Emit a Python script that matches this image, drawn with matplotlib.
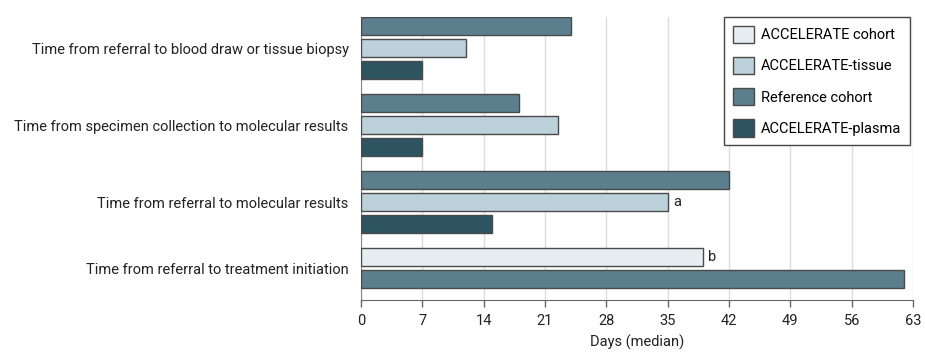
import matplotlib
matplotlib.use("Agg")
import matplotlib.pyplot as plt
from matplotlib.patches import Patch

plt.rcParams['font.family'] = ['Roboto', 'DejaVu Sans']

categories = [
    "Time from referral to blood draw or tissue biopsy",
    "Time from specimen collection to molecular results",
    "Time from referral to molecular results",
    "Time from referral to treatment initiation",
]
# each group: list of (series, value)
groups = [
    [("Reference cohort", 24), ("ACCELERATE-tissue", 12), ("ACCELERATE-plasma", 7)],
    [("Reference cohort", 18), ("ACCELERATE-tissue", 22.5), ("ACCELERATE-plasma", 7)],
    [("Reference cohort", 42), ("ACCELERATE-tissue", 35), ("ACCELERATE-plasma", 15)],
    [("ACCELERATE cohort", 39), ("Reference cohort", 62)],
]
notes = {(2, 1): "a", (3, 0): "b"}
colors = {
    "ACCELERATE cohort": "#e6eef2",
    "ACCELERATE-tissue": "#bdd1da",
    "Reference cohort": "#5b7f8d",
    "ACCELERATE-plasma": "#2e5361",
}
legend_order = ["ACCELERATE cohort", "ACCELERATE-tissue", "Reference cohort", "ACCELERATE-plasma"]
xticks = [0, 7, 14, 21, 28, 35, 42, 49, 56, 63]

FS = 10.5
fig = plt.figure(figsize=(9.25, 3.54), dpi=100)
ax = fig.add_axes([361/925, 1-300/354, (913-361)/925, (300-17)/354])

group_pitch = 3.5
ytick_pos = []
for gi, grp in enumerate(groups):
    base = gi * group_pitch
    ps = []
    for bj, (series, val) in enumerate(grp):
        y = base + bj
        ps.append(y)
        ax.barh(y, val, height=0.82, color=colors[series], edgecolor="#4a4a4a", linewidth=1.0, zorder=3)
        if (gi, bj) in notes:
            ax.text(val + 0.6, y, notes[(gi, bj)], va="center", ha="left", fontsize=FS, color="#222222", zorder=4)
    ytick_pos.append(sum(ps) / len(ps))

last = (len(groups) - 1) * group_pitch + len(groups[-1]) - 1
ax.set_ylim(last + 0.95, -0.41)
ax.set_xlim(0, 63)
ax.set_yticks(ytick_pos)
ax.set_yticklabels(categories, fontsize=FS, color="#222222")
ax.set_xticks(xticks)
ax.set_xticklabels([str(t) for t in xticks], fontsize=FS, color="#222222")
ax.tick_params(axis="y", length=0, pad=9)
ax.tick_params(axis="x", length=5, color="#666666", width=1, pad=5)
ax.grid(axis="x", color="#dcdcdc", linewidth=1, zorder=0)
for s in ["top", "right"]:
    ax.spines[s].set_visible(False)
ax.spines["left"].set_color("#888888")
ax.spines["bottom"].set_color("#666666")
ax.set_xlabel("Days (median)", fontsize=FS, color="#222222", labelpad=5)

handles = [Patch(facecolor=colors[s], edgecolor="#4a4a4a", linewidth=1.0, label=s) for s in legend_order]
leg = ax.legend(handles=handles, loc="upper right", bbox_to_anchor=(1.0 - 3/552, 1.0), fontsize=FS,
                frameon=True, fancybox=False, edgecolor="#444444", framealpha=1,
                handlelength=1.45, handleheight=1.45, borderpad=0.6, labelspacing=0.95, handletextpad=0.45,
                borderaxespad=0)
leg.get_frame().set_linewidth(1.0)
leg.set_zorder(5)

fig.savefig("out.png", dpi=100)
